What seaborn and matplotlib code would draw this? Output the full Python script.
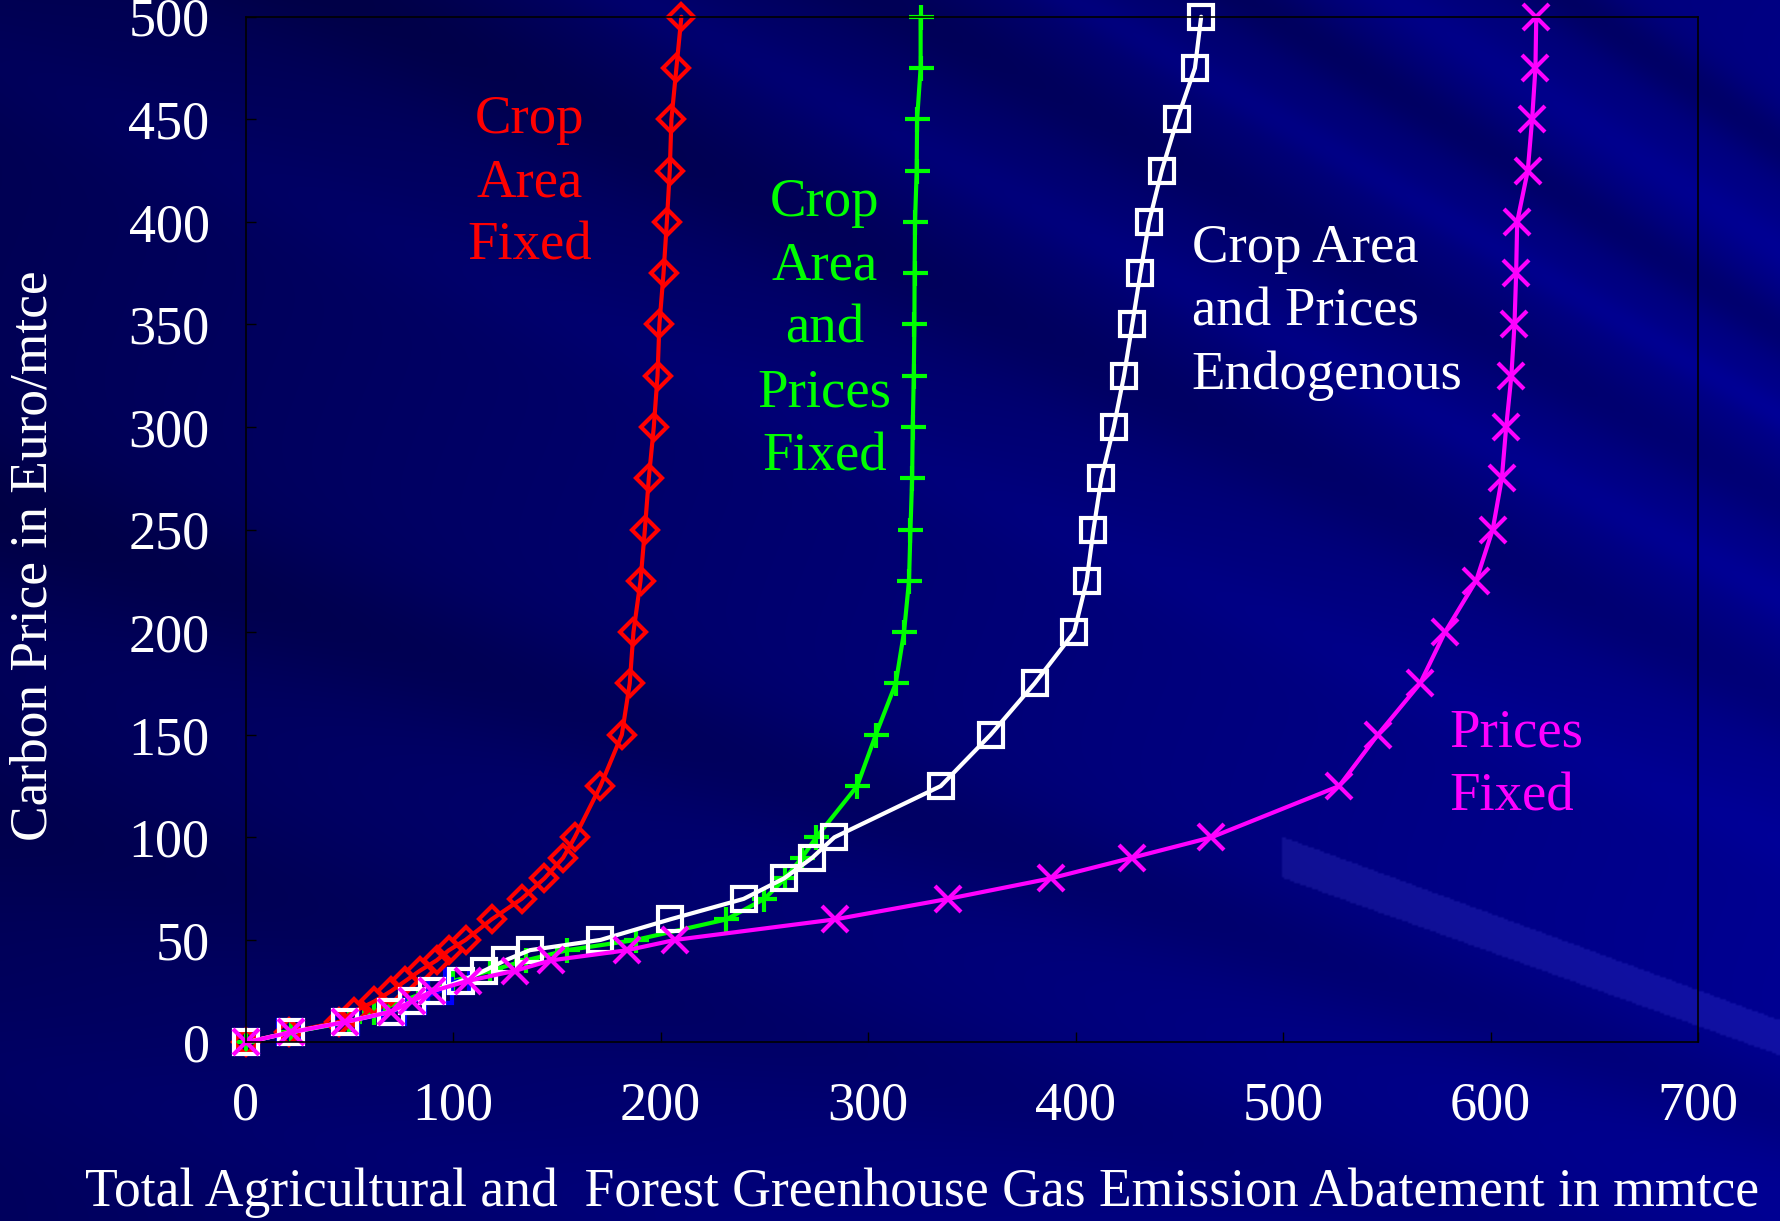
import numpy as np
import pandas as pd
import seaborn as sns
import matplotlib.pyplot as plt

# carbon price levels (Euro/mtce) used by every scenario
price = [0, 5, 10, 15, 20, 25, 30, 35, 40, 45, 50, 60, 70, 80, 90, 100,
         125, 150, 175, 200, 225, 250, 275, 300, 325, 350, 375, 400, 425, 450, 475, 500]

# abatement (mmtce) for each scenario
area_fixed = [0, 21, 45, 52, 62, 70, 77, 84, 92, 98, 106, 118.5, 133, 144, 153, 158.6,
              171, 181.3, 185.1, 186.9, 190.3, 192.4, 194.3, 196.7, 198.5, 199.4, 201.4,
              203, 204.4, 205.2, 207.6, 210]
area_prices_fixed = [0, 22, 50, 62, 75, 88, 100, 118, 135, 155, 188, 231.7, 250, 260, 268, 275,
                     294.7, 303.7, 313.3, 317.3, 319.7, 320.4, 321.2, 321.5, 322, 322.3, 322.4,
                     322.6, 323.4, 323.6, 325.3, 325.3]
endogenous = [0, 22, 48, 70, 80, 90, 104, 115, 125, 137, 171, 204.5, 240, 259.5, 273, 283.7,
              335, 359, 380.2, 399.3, 405.3, 408.6, 412.4, 418.4, 423.3, 427.3, 431.2,
              435.4, 441.5, 449, 457.5, 460.5]
prices_fixed = [0, 22, 48, 70, 80, 90, 107, 130, 147, 184, 207, 284, 338.5, 388, 427, 465.4,
                527, 545.6, 566, 578, 593, 601, 605.4, 607.5, 610, 611.5, 612.3, 612.8,
                617.9, 620, 621.6, 622]
# short blue series visible only near the origin
blue_price = price[:7]
blue_abate = [0, 21.3, 48.6, 71, 80.7, 93.6, 102]

series = [
    ("Crop Area and Prices Fixed", price, area_prices_fixed, "#00FF00", "+", 18),
    ("Blue", blue_price, blue_abate, "#0000FF", "s", 17),
    ("Crop Area Fixed", price, area_fixed, "#FF0000", "D", 13),
    ("Crop Area and Prices Endogenous", price, endogenous, "#FFFFFF", "s", 17),
    ("Prices Fixed", price, prices_fixed, "#FF00FF", "x", 19),
]

sns.set_style("ticks")
plt.rcParams["font.family"] = ["Liberation Serif", "DejaVu Serif"]

fig = plt.figure(figsize=(17.8, 12.21), dpi=100)
fig.patch.set_facecolor("#000080")

# streaky dark-blue slide background
bg = fig.add_axes([0, 0, 1, 1], zorder=0)
W, H = 890, 611
X, Y = np.meshgrid(np.linspace(0, 1780, W), np.linspace(0, 1221, H))
theta = np.degrees(np.arctan2(2040 - Y, 4540 - X))
r = np.hypot(4540 - X, 2040 - Y)
b = 0.58 - 0.26 * (r - 2879) / 2098
bands = [(34.5, 0.5, -0.10), (33.0, 0.4, 0.05), (31.8, 0.5, -0.09), (30.5, 0.3, 0.05),
         (29.2, 0.7, -0.08), (27.6, 0.4, 0.04), (26.0, 0.9, -0.08), (23.5, 0.6, 0.03),
         (18.6, 0.9, -0.07), (15.0, 1.0, -0.05), (12.0, 0.8, 0.03)]
for c, w, a in bands:
    b = b + a * np.exp(-((theta - c) / w) ** 2)
light = 0.08 * (np.abs(theta - 19.95) < 0.32) * (X > 1283)
b = b + light
rg = np.clip(light * 0.8, 0, 1)
img = np.dstack([rg, rg, np.clip(b, 0, 1)])
bg.imshow(img, extent=[0, 1, 0, 1], aspect="auto", interpolation="bilinear")
bg.set_axis_off()

ax = fig.add_axes([0.138, 0.1462, 0.816, 0.8401], zorder=1)
ax.set_facecolor("none")

for name, yv, xv, color, marker, ms in series:
    df = pd.DataFrame({"abatement": xv, "price": yv})
    sns.lineplot(data=df, x="abatement", y="price", ax=ax, color=color, lw=3,
                 marker=marker, ms=ms, mec=color, mfc="none", mew=3,
                 estimator=None, sort=False, clip_on=False)

ax.set_xlim(0, 700)
ax.set_ylim(0, 500)
ax.set_xticks(range(0, 701, 100))
ax.set_yticks(range(0, 501, 50))
ax.tick_params(axis="both", direction="in", length=7, width=1, color="black",
               labelcolor="white", labelsize=39)
ax.tick_params(axis="y", pad=26)
ax.tick_params(axis="x", pad=28)
for s in ax.spines.values():
    s.set_visible(True)
    s.set_color("black")
    s.set_linewidth(1.2)

ax.set_xlabel("Total Agricultural and  Forest Greenhouse Gas Emission Abatement in mmtce",
              color="white", fontsize=38.6)
ax.xaxis.label.set_va("center")
ax.xaxis.set_label_coords(0.466, -0.146)
ax.set_ylabel("Carbon Price in Euro/mtce", color="white", fontsize=38.4)
ax.yaxis.label.set_va("center")
ax.yaxis.set_label_coords(-0.1458, 0.475)

lab = dict(fontsize=39.4, va="center", linespacing=1.34)
ax.text(137, 419, "Crop\nArea\nFixed", color="#FF0000", ha="center", **lab)
ax.text(279, 347.5, "Crop\nArea\nand\nPrices\nFixed", color="#00FF00", ha="center", **lab)
ax.text(456, 356, "Crop Area\nand Prices\nEndogenous", color="white", ha="left", **lab)
ax.text(580, 135, "Prices\nFixed", color="#FF00FF", ha="left", **lab)

fig.savefig("out.png", dpi=100, facecolor=fig.get_facecolor())
